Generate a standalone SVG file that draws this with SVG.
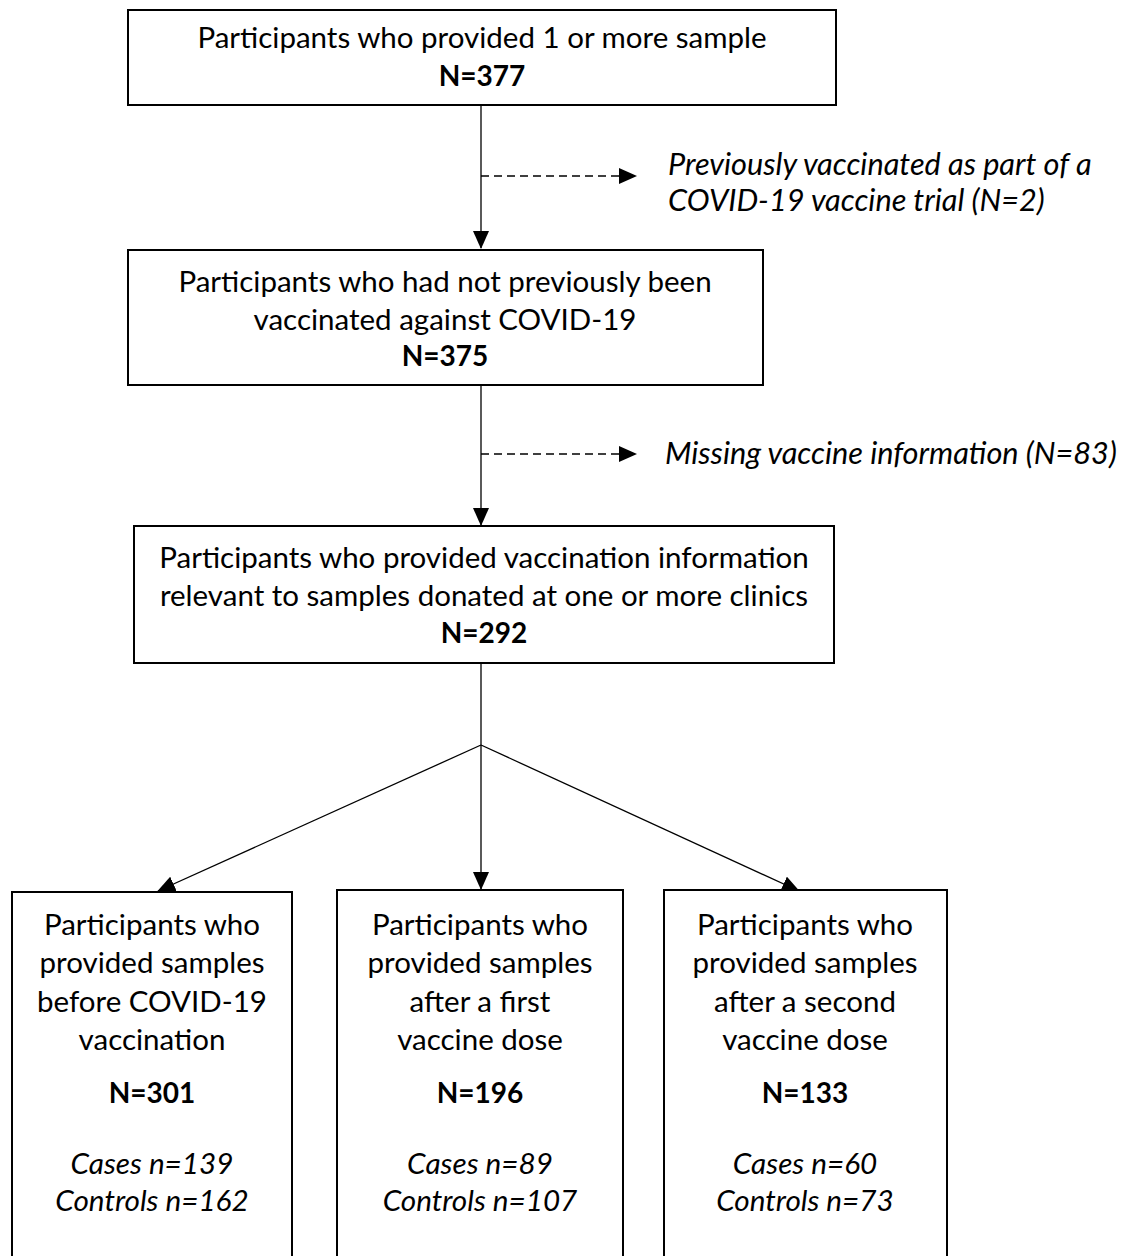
<svg xmlns="http://www.w3.org/2000/svg" width="1124" height="1256" viewBox="0 0 1124 1256">
<defs>
<marker id="ah2" markerWidth="18" markerHeight="16" refX="17" refY="8" orient="auto" markerUnits="userSpaceOnUse" viewBox="0 0 18 16">
<path d="M0,0 L18,8 L0,16 Z" fill="#000"/>
</marker>
</defs>
<style>
text{font-family:Lato,"Liberation Sans",sans-serif;font-size:29.5px;fill:#000;text-anchor:middle}
.b{font-weight:bold;font-size:28px}
.i{font-style:italic;text-anchor:start;font-size:30.7px}
.ic{font-style:italic;font-size:29.7px}
.box{fill:#fff;stroke:#000;stroke-width:2}
.ln{fill:none;stroke:#000;stroke-width:1.3}
.dash{stroke-dasharray:8,5}
</style>
<g id="connectors">
<line class="ln" x1="481" y1="105" x2="481" y2="248" marker-end="url(#ah2)"/>
<line class="ln dash" x1="481" y1="176" x2="636" y2="176" marker-end="url(#ah2)"/>
<line class="ln" x1="481" y1="385" x2="481" y2="525" marker-end="url(#ah2)"/>
<line class="ln dash" x1="481" y1="454" x2="636" y2="454" marker-end="url(#ah2)"/>
<line class="ln" x1="481" y1="663" x2="481" y2="745"/>
<line class="ln" x1="481" y1="745" x2="158" y2="891" marker-end="url(#ah2)"/>
<line class="ln" x1="481" y1="745" x2="481" y2="889" marker-end="url(#ah2)"/>
<line class="ln" x1="481" y1="745" x2="799" y2="891" marker-end="url(#ah2)"/>
</g>
<g id="n1">
<rect class="box" x="128" y="10" width="708" height="95"/>
<text x="482" y="48">Participants who provided 1 or more sample</text>
<text class="b" x="482" y="86">N=377</text>
</g>
<g id="excl1">
<text class="i" x="668" y="175">Previously vaccinated as part of a</text>
<text class="i" x="668" y="211">COVID-19 vaccine trial (N=2)</text>
</g>
<g id="n2">
<rect class="box" x="128" y="250" width="635" height="135"/>
<text x="445" y="292">Participants who had not previously been</text>
<text x="445" y="330">vaccinated against COVID-19</text>
<text class="b" x="445" y="366">N=375</text>
</g>
<g id="excl2">
<text class="i" x="665" y="464">Missing vaccine information (N=83)</text>
</g>
<g id="n3">
<rect class="box" x="134" y="526" width="700" height="137"/>
<text x="484" y="568">Participants who provided vaccination information</text>
<text x="484" y="606">relevant to samples donated at one or more clinics</text>
<text class="b" x="484" y="643">N=292</text>
</g>
<g id="nA">
<rect class="box" x="12" y="892" width="280" height="380"/>
<text x="152" y="935">Participants who</text>
<text x="152" y="973">provided samples</text>
<text x="152" y="1012">before COVID-19</text>
<text x="152" y="1050">vaccination</text>
<text class="b" x="152" y="1103">N=301</text>
<text class="ic" x="152" y="1174">Cases n=139</text>
<text class="ic" x="152" y="1211">Controls n=162</text>
</g>
<g id="nB">
<rect class="box" x="337" y="890" width="286" height="380"/>
<text x="480" y="935">Participants who</text>
<text x="480" y="973">provided samples</text>
<text x="480" y="1012">after a first</text>
<text x="480" y="1050">vaccine dose</text>
<text class="b" x="480" y="1103">N=196</text>
<text class="ic" x="480" y="1174">Cases n=89</text>
<text class="ic" x="480" y="1211">Controls n=107</text>
</g>
<g id="nC">
<rect class="box" x="664" y="890" width="283" height="380"/>
<text x="805" y="935">Participants who</text>
<text x="805" y="973">provided samples</text>
<text x="805" y="1012">after a second</text>
<text x="805" y="1050">vaccine dose</text>
<text class="b" x="805" y="1103">N=133</text>
<text class="ic" x="805" y="1174">Cases n=60</text>
<text class="ic" x="805" y="1211">Controls n=73</text>
</g>
</svg>
